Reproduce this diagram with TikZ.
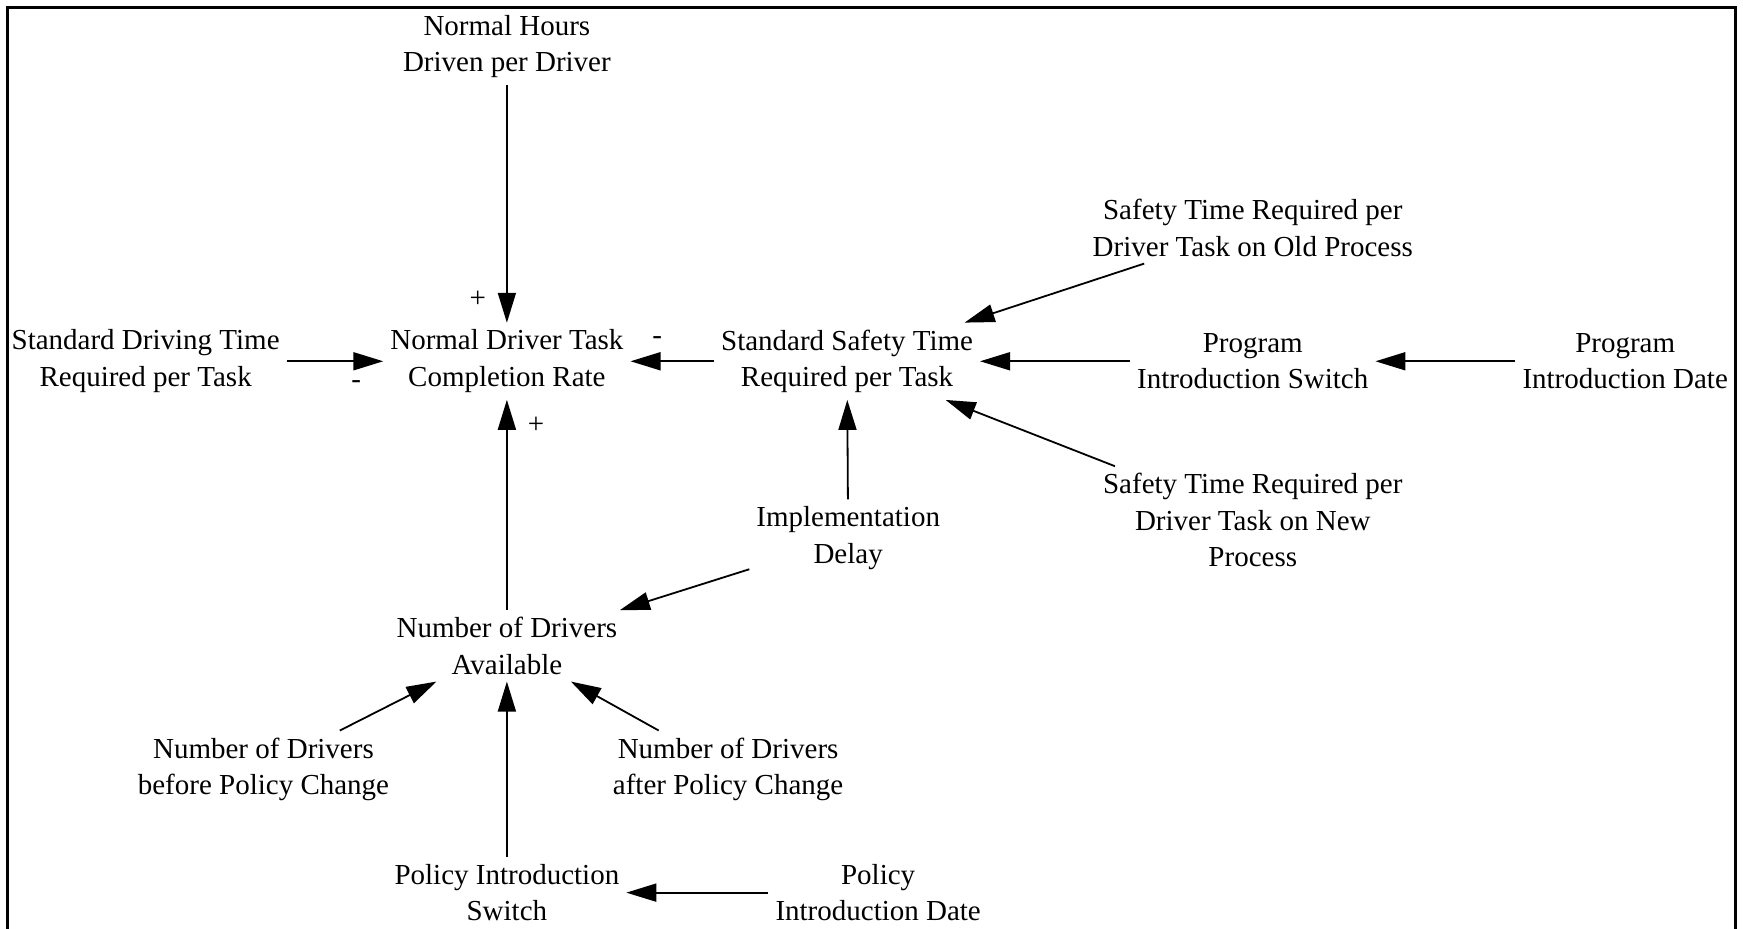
\documentclass[tikz,border=0pt]{standalone}
\usepackage{fontspec}
\setmainfont{Liberation Serif}
\usetikzlibrary{arrows.meta}

\tikzset{
    var/.style={align=center, font=\fontsize{14.5}{18.3}\selectfont},
    link/.style={-{Triangle[length=15pt,width=9pt]}, line width=0.9pt},
    pol/.style={inner sep=0pt, font=\fontsize{14.5}{18.3}\selectfont}
}

\begin{document}
\begin{tikzpicture}[x=0.5558pt, y=-0.5558pt]
        \useasboundingbox (0,0) rectangle (1568,835);
        \draw[line width=1.5pt] (6.5,845) -- (6.5,6.5) -- (1561,6.5) -- (1561,845);

        \node[var] (hours) at (456,42) {Normal Hours\\Driven per Driver};
        \node[var] (rate) at (456,325) {Normal Driver Task\\Completion Rate};
        \node[var] (drive) at (131,325) {Standard Driving Time\\Required per Task};
        \node[var] (safety) at (762,325) {Standard Safety Time\\Required per Task};
        \node[var] (old) at (1127,205) {Safety Time Required per\\Driver Task on Old Process};
        \node[var] (progsw) at (1127,325) {Program\\Introduction Switch};
        \node[var] (progdate) at (1462,325) {Program\\Introduction Date};
        \node[var] (new) at (1127,468) {Safety Time Required per\\Driver Task on New\\Process};
        \node[var] (delay) at (763,484) {Implementation\\Delay};
        \node[var] (drivers) at (456,581) {Number of Drivers\\Available};
        \node[var] (before) at (237,692) {Number of Drivers\\before Policy Change};
        \node[var] (after) at (655,692) {Number of Drivers\\after Policy Change};
        \node[var] (polsw) at (456,803) {Policy Introduction\\Switch};
        \node[var] (poldate) at (790,803) {Policy\\Introduction Date};

        \draw[link] (hours) -- node[pol,pos=0.9,left=10pt] {+} (rate);
        \draw[link] (drive) -- node[pol,pos=0.72,below=9pt] {-} (rate);
        \draw[link] (safety) -- node[pol,pos=0.68,above=8pt] {-} (rate);
        \draw[link] (drivers) -- node[pol,pos=0.88,right=10pt] {+} (rate);
        \draw[link] (old) -- (safety);
        \draw[link] (progsw) -- (safety);
        \draw[link] (progdate) -- (progsw);
        \draw[link] (new) -- (safety);
        \draw[link] (delay) -- (safety);
        \draw[link] (delay) -- (drivers);
        \draw[link] (before) -- (drivers);
        \draw[link] (after) -- (drivers);
        \draw[link] (polsw) -- (drivers);
        \draw[link] (poldate) -- (polsw);
    \end{tikzpicture}
\end{document}
